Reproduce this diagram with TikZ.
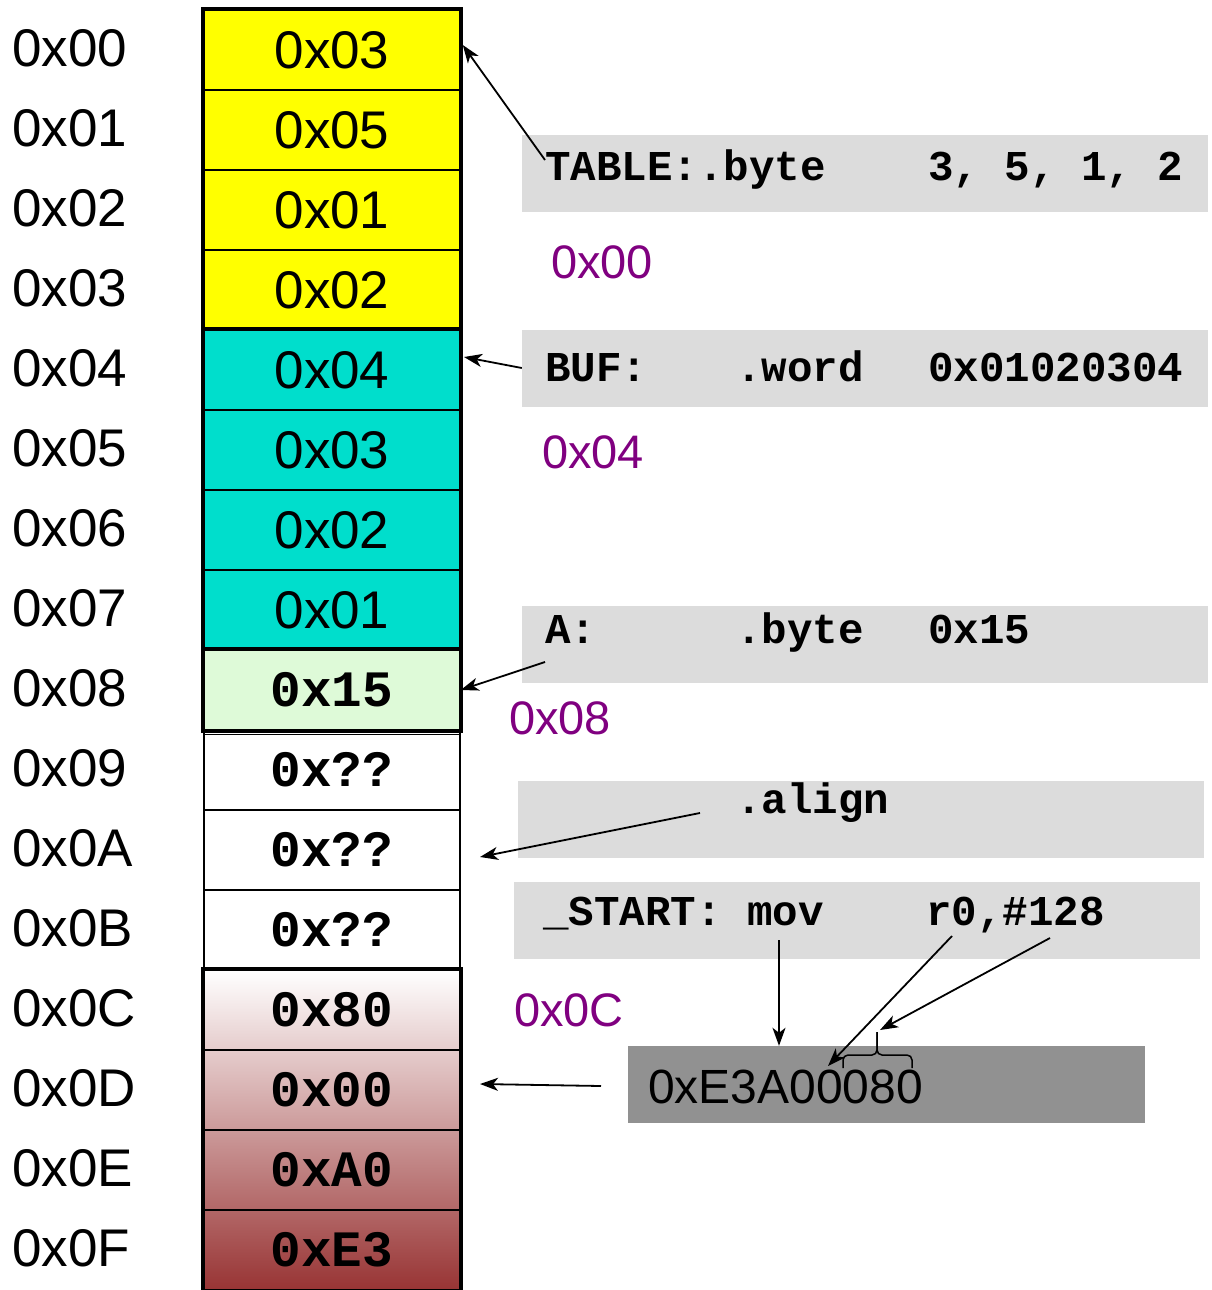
\documentclass[tikz,border=0pt]{standalone}
\usepackage{fontspec}
\setmainfont{Liberation Sans}
\setmonofont{Liberation Mono}
\usetikzlibrary{arrows.meta,calc}

\definecolor{memyellow}{RGB}{255,255,0}
\definecolor{memcyan}{RGB}{0,222,204}
\definecolor{memgreen}{RGB}{222,250,216}
\definecolor{memred}{RGB}{152,52,52}
\definecolor{codegray}{RGB}{220,220,220}
\definecolor{wordgray}{RGB}{145,145,145}
\definecolor{addrpurple}{RGB}{128,0,128}

\newcommand\asmline[3]{\makebox[191pt][l]{#1}\makebox[192pt][l]{#2}#3}

\tikzset{
  addr/.style={anchor=west,inner sep=0,font=\fontsize{53}{53}\selectfont},
  cell/.style={draw,line width=1.5,minimum width=256,minimum height=80,inner sep=0,font=\fontsize{53}{53}\selectfont},
  bytecell/.style={cell,font=\fontsize{51}{51}\selectfont\ttfamily\bfseries},
  codebox/.style={fill=codegray,minimum width=686,minimum height=77,inner sep=0},
  codetext/.style={anchor=west,inner sep=0,font=\fontsize{42.5}{42.5}\selectfont\ttfamily\bfseries},
  offs/.style={anchor=west,inner sep=0,text=addrpurple,font=\fontsize{47}{47}\selectfont},
  ptr/.style={-{Stealth[length=18,width=13,inset=5]},line width=1.8},
  bracket/.style={line width=1.5,rounded corners=5},
}

\begin{document}
\begin{tikzpicture}[x=1pt,y=-1pt]
\useasboundingbox (0,0) rectangle (1211,1290);

\node[addr] (a0) at (12,48) {0x00};
\node[addr] (a1) at (12,128) {0x01};
\node[addr] (a2) at (12,208) {0x02};
\node[addr] (a3) at (12,288) {0x03};
\node[addr] (a4) at (12,368) {0x04};
\node[addr] (a5) at (12,448) {0x05};
\node[addr] (a6) at (12,528) {0x06};
\node[addr] (a7) at (12,608) {0x07};
\node[addr] (a8) at (12,688) {0x08};
\node[addr] (a9) at (12,768) {0x09};
\node[addr] (aA) at (12,848) {0x0A};
\node[addr] (aB) at (12,928) {0x0B};
\node[addr] (aC) at (12,1008) {0x0C};
\node[addr] (aD) at (12,1088) {0x0D};
\node[addr] (aE) at (12,1168) {0x0E};
\node[addr] (aF) at (12,1248) {0x0F};

\node[cell,fill=memyellow] (m0) at (332,50) {0x03};
\node[cell,fill=memyellow] (m1) at (332,130) {0x05};
\node[cell,fill=memyellow] (m2) at (332,210) {0x01};
\node[cell,fill=memyellow] (m3) at (332,290) {0x02};
\draw[line width=4] (m0.north west) rectangle (m3.south east);

\node[cell,fill=memcyan] (m4) at (332,370) {0x04};
\node[cell,fill=memcyan] (m5) at (332,450) {0x03};
\node[cell,fill=memcyan] (m6) at (332,530) {0x02};
\node[cell,fill=memcyan] (m7) at (332,610) {0x01};
\draw[line width=4] (m4.north west) rectangle (m7.south east);

\node[bytecell,fill=memgreen] (m8) at (332,690) {0x15};
\draw[line width=4] (m8.north west) rectangle (m8.south east);

\node[bytecell] (m9) at (332,770) {0x??};
\node[bytecell] (mA) at (332,850) {0x??};
\node[bytecell] (mB) at (332,930) {0x??};
\draw[line width=1.5] ($(m9.north west)+(0,5)$) -- ($(m9.north east)+(0,5)$);

\shade[top color=white,bottom color=memred] (204,970) rectangle (460,1290);
\node[bytecell] (mC) at (332,1010) {0x80};
\node[bytecell] (mD) at (332,1090) {0x00};
\node[bytecell] (mE) at (332,1170) {0xA0};
\node[bytecell] (mF) at (332,1250) {0xE3};
\draw[line width=4] (mC.north west) rectangle (mF.south east);

\node[codebox] (tablebox) at (865,173) {};
\node[codetext] (tabletext) at (545,170) {\asmline{TABLE:.byte}{}{3,~5,~1,~2}};
\node[offs] (tableoff) at (551,262) {0x00};

\node[codebox] (bufbox) at (865,368) {};
\node[codetext] (buftext) at (545,366) {\asmline{BUF:}{.word}{0x01020304}};
\node[offs] (bufoff) at (542,452) {0x04};

\node[codebox] (abox) at (865,644) {};
\node[codetext] (atext) at (545,633) {\asmline{A:}{.byte}{0x15}};
\node[offs] (aoff) at (509,718) {0x08};

\node[codebox] (alignbox) at (861,819) {};
\node[codetext] (aligntext) at (545,803) {\asmline{}{.align}{}};

\node[codebox] (startbox) at (857,920) {};
\node[codetext] (starttext) at (543,915) {\asmline{\_START:~mov}{}{r0,\#128}};
\node[offs] (startoff) at (514,1010) {0x0C};

\node[fill=wordgray,minimum width=517,minimum height=77,inner sep=0] (wordbox) at (886.5,1084.5) {};
\node[anchor=west,inner sep=0,font=\fontsize{48}{48}\selectfont] (wordtext) at (648,1087) {0xE3A00080};

\coordinate (tablefrom) at (545,160);
\coordinate (bufto) at (464,357);
\coordinate (afrom) at (545,662);
\coordinate (alignfrom) at (700,813);
\coordinate (alignto) at (480,857);
\coordinate (wordfrom) at (601,1086);
\coordinate (wordto) at (480,1084);
\coordinate (movfrom) at (779,940);
\coordinate (regfrom) at (952,936);
\coordinate (regto) at (828,1066);
\coordinate (immfrom) at (1050,938);
\coordinate (immto) at (880,1030);

\draw[ptr] (tablefrom) -- ($(m0.east)+(2,-5)$);
\draw[ptr] (bufbox.west) -- (bufto);
\draw[ptr] (afrom) -- (m8.east);
\draw[ptr] (alignfrom) -- (alignto);
\draw[ptr] (wordfrom) -- (wordto);
\draw[ptr] (movfrom) -- (movfrom |- wordbox.north);
\draw[ptr] (regfrom) -- (regto);
\draw[ptr] (immfrom) -- (immto);
\draw[bracket] (843,1068) -- (843,1055) -- (877,1055) -- (877,1032);
\draw[bracket] (877,1032) -- (877,1055) -- (912,1055) -- (912,1068);
\end{tikzpicture}
\end{document}
